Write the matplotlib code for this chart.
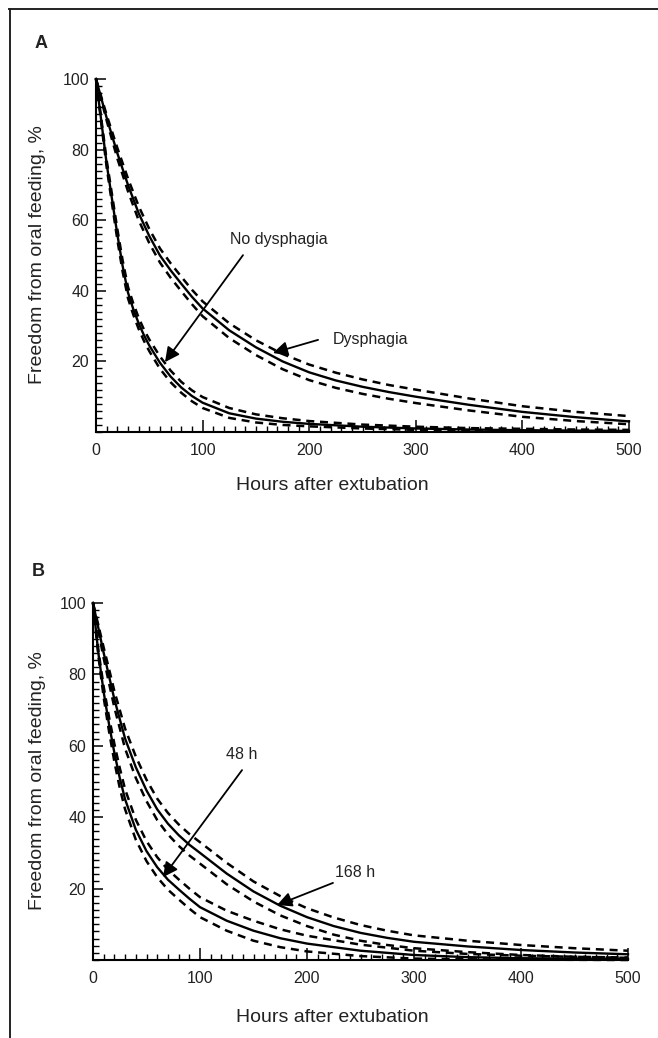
import matplotlib
matplotlib.use("Agg")
import matplotlib.pyplot as plt
from matplotlib.lines import Line2D
from matplotlib.ticker import MultipleLocator, FixedLocator

plt.rcParams['font.family'] = ['Liberation Sans', 'DejaVu Sans']

# ---------------- data ----------------
# Panel A: no dysphagia
hours_a = [0, 5, 10, 15, 20, 25, 30, 35, 40, 45, 50, 60, 70, 80, 90, 100, 125, 150, 175, 200, 250, 300, 350, 400, 450, 500]
no_dys = [100, 88, 76, 66, 56, 47, 39.5, 34.8, 30.8, 27.4, 24.5, 19.6, 15.7, 12.6, 10.2, 8.3, 5.3, 3.8, 2.9, 2.3, 1.5, 1.0, 0.7, 0.5, 0.4, 0.3]
no_dys_hi = [100, 88.6, 77, 67.3, 57.5, 48.6, 41.1, 36.4, 32.4, 29, 26.2, 21.4, 17.4, 14.2, 11.8, 9.9, 6.8, 5, 3.9, 3.1, 2.1, 1.5, 1.1, 0.9, 0.7, 0.6]
no_dys_lo = [100, 87.4, 75, 64.7, 54.5, 45.4, 37.9, 33.2, 29.2, 25.8, 22.9, 17.9, 14.1, 11.1, 8.7, 6.8, 4.0, 2.7, 2.0, 1.6, 1.0, 0.6, 0.4, 0.3, 0.2, 0.1]

# Panel A: dysphagia
hours_d = [0, 10, 20, 30, 40, 50, 60, 70, 80, 90, 100, 125, 150, 175, 200, 225, 250, 275, 300, 350, 400, 450, 500]
dys = [100, 89, 79, 70, 62, 55.5, 50, 45.8, 42, 38.3, 35, 28.8, 24, 20, 16.9, 14.6, 12.8, 11.3, 10, 7.7, 5.7, 4.2, 3.0]
dys_hi = [100, 89.8, 80.5, 71.8, 64, 57.5, 52, 47.8, 44, 40.3, 37, 30.8, 26, 22.1, 19.1, 16.8, 14.9, 13.3, 12, 9.5, 7.3, 5.7, 4.5]
dys_lo = [100, 88.2, 77.5, 68.2, 60, 53.5, 48, 43.7, 39.9, 36.2, 32.8, 26.6, 21.8, 17.8, 14.7, 12.5, 10.8, 9.4, 8.2, 6.1, 4.3, 3.1, 2.2]

# Panel B: 48 h
hours_b = [0, 5, 10, 15, 20, 25, 30, 40, 50, 60, 70, 80, 90, 100, 125, 150, 175, 200, 250, 300, 350, 400, 450, 500]
h48 = [100, 86, 75, 66, 58, 51, 45, 36.5, 30.5, 26, 22.5, 19.8, 17.2, 14.8, 11, 8.2, 6.1, 4.6, 2.6, 1.4, 0.8, 0.5, 0.4, 0.3]
h48_hi = [100, 86.8, 76.5, 68, 60.5, 53.8, 47.8, 39.3, 33.3, 28.8, 25.3, 22.6, 20, 17.6, 13.8, 11, 8.6, 6.8, 4.3, 2.6, 1.7, 1.2, 0.9, 0.7]
h48_lo = [100, 85.2, 73.5, 64, 55.5, 48.2, 42.2, 33.7, 27.7, 23.2, 19.7, 17, 14.4, 12, 8.2, 5.4, 3.6, 2.4, 1.1, 0.4, 0.2, 0.1, 0.05, 0.0]

# Panel B: 168 h
hours_c = [0, 5, 10, 15, 20, 30, 40, 50, 60, 70, 80, 90, 100, 125, 150, 175, 200, 225, 250, 275, 300, 350, 400, 450, 500]
h168 = [100, 93, 86, 79.5, 73, 62, 54, 47.5, 42.2, 38.2, 35, 32.3, 30, 24.2, 19.2, 15.2, 12, 9.5, 7.6, 6.2, 5.1, 3.8, 2.8, 2.1, 1.6]
h168_hi = [100, 93.8, 87.5, 81.5, 75.3, 64.8, 57, 50.5, 45.2, 41.2, 38, 35.3, 33, 27.2, 22, 17.9, 14.5, 11.9, 9.8, 8.2, 6.9, 5.4, 4.2, 3.3, 2.6]
h168_lo = [100, 92.2, 84.5, 77.5, 70.7, 59.2, 51, 44.5, 39.2, 35.2, 32, 29.3, 27, 21.2, 16.4, 12.5, 9.5, 7.1, 5.4, 4.2, 3.3, 2.2, 1.4, 0.9, 0.6]

x_ticks = [0, 100, 200, 300, 400, 500]
y_ticks = [20, 40, 60, 80, 100]

# ---------------- figure ----------------
fig = plt.figure(figsize=(6.58, 10.38), dpi=100)
W, H = 658.0, 1038.0

# outer frame (top and left)
fig.add_artist(Line2D([9 / W, 1.0], [1 - 8.5 / H, 1 - 8.5 / H], transform=fig.transFigure,
                      color='#222222', lw=1.4))
fig.add_artist(Line2D([9.5 / W, 9.5 / W], [0.0, 1 - 8.5 / H], transform=fig.transFigure,
                      color='#222222', lw=1.4))


def setup(ax):
    ax.set_xlim(0, 500)
    ax.set_ylim(0, 100)
    for s in ('top', 'right'):
        ax.spines[s].set_visible(False)
    for s in ('left', 'bottom'):
        ax.spines[s].set_linewidth(1.5)
    ax.xaxis.set_major_locator(FixedLocator(x_ticks))
    ax.xaxis.set_minor_locator(MultipleLocator(10))
    ax.yaxis.set_major_locator(FixedLocator(y_ticks))
    ax.yaxis.set_minor_locator(MultipleLocator(2))
    ax.tick_params(axis='both', which='major', direction='in', length=7, width=1.1,
                   labelsize=11.5, pad=5, labelcolor='#222222')
    ax.tick_params(axis='both', which='minor', direction='in', length=4, width=1.0)
    ax.tick_params(axis='x', which='major', length=9, pad=8)


def curve(ax, x, mid, lo, hi):
    ax.plot(x, mid, color='black', lw=1.7, clip_on=False)
    for arr in (lo, hi):
        ax.plot(x, arr, color='black', lw=1.8, linestyle=(0, (3.2, 2.3)), clip_on=False)


arrow = dict(arrowstyle='-|>', mutation_scale=22, lw=1.3, color='black',
             shrinkA=0, shrinkB=0)

# ---- panel A ----
axA = fig.add_axes([96 / W, 1 - 432 / H, 533 / W, 353 / H])
setup(axA)
curve(axA, hours_a, no_dys, no_dys_lo, no_dys_hi)
curve(axA, hours_d, dys, dys_lo, dys_hi)
axA.text(171.7, 54.6, 'No dysphagia', ha='center', va='center', fontsize=11.5, color='#222222')
axA.annotate('', xy=(64.7, 19.8), xytext=(137.9, 50.1), arrowprops=arrow)
axA.text(222.3, 26.1, 'Dysphagia', ha='left', va='center', fontsize=11.5, color='#222222')
axA.annotate('', xy=(166, 22.4), xytext=(208.3, 26.1), arrowprops=arrow)

# ---- panel B ----
axB = fig.add_axes([93 / W, 1 - 960 / H, 535 / W, 357 / H])
setup(axB)
curve(axB, hours_b, h48, h48_lo, h48_hi)
curve(axB, hours_c, h168, h168_lo, h168_hi)
axB.text(139.3, 57.6, '48 h', ha='center', va='center', fontsize=11.5, color='#222222')
axB.annotate('', xy=(65.4, 23.2), xytext=(139.3, 53.2), arrowprops=arrow)
axB.text(226.2, 24.4, '168 h', ha='left', va='center', fontsize=11.5, color='#222222')
axB.annotate('', xy=(172, 15.4), xytext=(224.3, 21.6), arrowprops=arrow)

# labels
ylab = 'Freedom from oral feeding, %'
fig.text(38 / W, 1 - 255 / H, ylab, rotation=90, ha='center', va='center', fontsize=14, color='#222222')
fig.text(38 / W, 1 - 781 / H, ylab, rotation=90, ha='center', va='center', fontsize=14, color='#222222')
fig.text(332 / W, 1 - 486 / H, 'Hours after extubation', ha='center', va='center', fontsize=14, color='#222222')
fig.text(332 / W, 1 - 1018 / H, 'Hours after extubation', ha='center', va='center', fontsize=14, color='#222222')
fig.text(41 / W, 1 - 43 / H, 'A', ha='center', va='center', fontsize=13, fontweight='bold', color='#222222')
fig.text(38 / W, 1 - 572 / H, 'B', ha='center', va='center', fontsize=13, fontweight='bold', color='#222222')

fig.savefig('out.png', dpi=100)
